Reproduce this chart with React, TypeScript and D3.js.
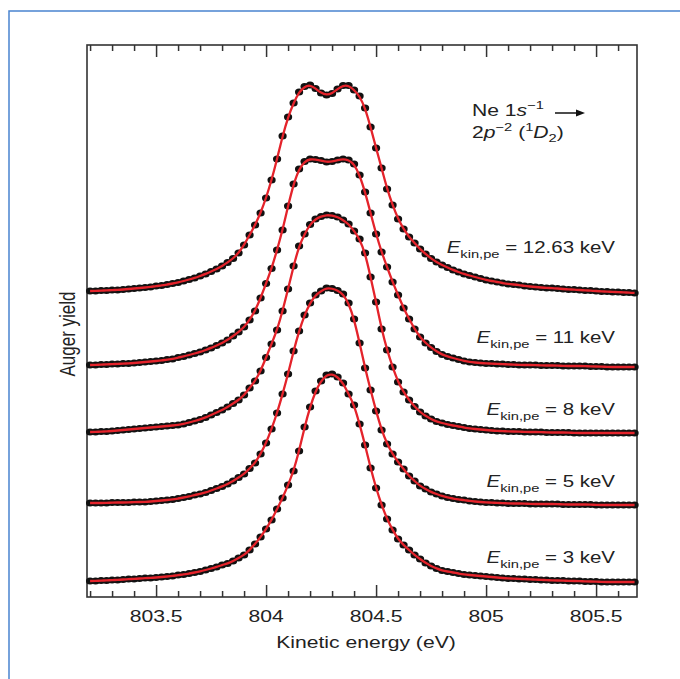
import React, { useEffect, useRef } from 'react';
import * as d3 from 'd3';

// kinetic energy grid (eV): one measured point every 25 meV
const energyStart = 803.2;
const energyStep = 0.025;
const pointCount = 100;

// Auger yield (arb. units, already offset for each photoelectron energy)
const yield1263keV = [
  306, 306, 306.5, 306.5, 307, 307, 307.5, 308, 308.5, 309,
  309.5, 310, 311, 311.5, 312.5, 313.5, 314.5, 316, 317.5, 319,
  321, 323, 325.5, 328, 331, 334.5, 338.5, 344, 352, 362,
  372, 384, 399, 417, 438, 461, 480, 494, 505, 510.5,
  512, 508.5, 504, 502, 503.5, 508, 511.5, 511.5, 507, 501,
  489, 470, 449, 429, 408, 392, 378, 368, 360, 354,
  348, 343, 338.5, 335, 332, 329.5, 327, 325, 323, 321.5,
  320, 318.5, 317, 316, 315, 314, 313, 312.5, 312, 311,
  310.5, 310, 309.5, 309, 309, 308.5, 308, 307.5, 307.5, 307,
  306.5, 306.5, 306, 305.5, 305.5, 305, 305, 304.5, 304.5, 304
];
const yield11keV = [
  232, 232, 232.5, 232.5, 233, 233, 233.5, 233.5, 234, 234.5,
  235, 235.5, 236, 236.5, 237.5, 238, 239.5, 240.5, 242, 243.5,
  245, 247, 249, 251.5, 254, 257, 261, 265, 270, 277,
  286, 299, 313.5, 328.5, 347, 367, 391, 413, 428, 435.5,
  438, 437.5, 436.5, 435, 435.5, 437, 438, 437, 433, 422,
  405, 384, 363, 345, 330, 315, 302, 289, 278, 268,
  260, 254, 249.5, 245.5, 242.5, 240.5, 239, 237.5, 236, 235,
  234.5, 234, 233.5, 233.5, 233, 233, 232.5, 232.5, 232, 232,
  232, 232, 231.5, 231.5, 231.5, 231.5, 231, 231, 231, 231,
  231, 230.5, 230.5, 230.5, 230, 230, 230, 230, 230, 230
];
const yield8keV = [
  165, 165, 165.5, 165.5, 166, 166.5, 167, 167.5, 168, 168.5,
  169, 169.5, 170, 170.5, 171, 171.5, 172, 173, 174.5, 176,
  177.5, 179.5, 182, 184.5, 187, 190, 193.5, 197, 202, 209,
  216, 226, 239.5, 253, 267, 286, 308, 331, 351, 363,
  372.5, 378, 380.5, 382, 381.5, 380, 377, 373, 366, 358,
  344, 320, 295, 268, 247, 230, 215, 205, 197, 190.5,
  185, 181, 178, 175.5, 174, 172.5, 171.5, 170.5, 169.5, 168.5,
  168, 167.5, 167, 166.5, 166, 166, 165.5, 165.5, 165.5, 165,
  165, 165, 165, 164.5, 164.5, 164.5, 164.5, 164.5, 164, 164,
  164, 164, 164, 164, 164, 164, 164, 164, 164, 164
];
const yield5keV = [
  94, 94, 94, 94, 94.5, 94.5, 94.5, 94.5, 95, 95,
  95, 95.5, 96, 96.5, 97, 97.5, 98.5, 99.5, 100.5, 102,
  103, 104.5, 106.5, 108.5, 110.5, 113, 116, 119.5, 123, 128.5,
  134, 143, 154, 168, 184, 203, 223, 246, 266, 282,
  294, 302, 306, 309, 308.5, 306.5, 303, 294, 278, 254,
  229, 207, 186, 167, 153, 143, 135, 128, 121, 116,
  111, 108, 105, 103, 101, 99.5, 98.5, 97.5, 97, 96,
  95.5, 95, 94.5, 94.5, 94, 94, 93.5, 93.5, 93.5, 93.5,
  93, 93, 93, 93, 93, 93, 92.5, 92.5, 92.5, 92.5,
  92.5, 92.5, 92, 92, 92, 92, 92, 92, 92, 92
];
const yield3keV = [
  16, 16, 16.5, 16.5, 17, 17, 17.5, 18, 18, 18.5,
  19, 19, 19.5, 20, 20.5, 21, 22, 22.5, 23.5, 24.5,
  25.5, 27, 28.5, 30, 32, 33.5, 36, 39, 42, 47,
  53, 60, 68, 77, 88, 99, 112, 126, 146, 170,
  190, 206, 216, 222, 223, 220, 214, 203, 192, 173,
  152, 129, 109, 92, 78, 67, 58, 52, 47, 42,
  38, 34, 31, 28.5, 26.5, 25.5, 24.5, 23.5, 22.5, 22,
  21.5, 21, 20.5, 20, 19.5, 19, 18.5, 18.5, 18, 18,
  17.5, 17.5, 17, 17, 16.5, 16.5, 16.5, 16, 16, 16,
  15.5, 15.5, 15.5, 15, 15, 15, 15, 15, 15, 15
];

// photoelectron kinetic energies (keV), top to bottom
const photoEnergies = ['12.63', '11', '8', '5', '3'];
const majorTicks = [803.5, 804, 804.5, 805, 805.5];

const W = 680;
const H = 679;
const plot = { left: 87, right: 637, top: 45, bottom: 597 };
const stretch = 1.28; // the figure text is a bit wide
const labelRight = 615;
const labelBaselines = [253, 343, 415, 487, 563];
const FONT = "'Liberation Sans', Arial, Helvetica, sans-serif";

const App = () => {
  const ref = useRef<SVGSVGElement>(null);

  useEffect(() => {
    const svg = d3.select(ref.current);
    svg.selectAll('*').remove();

    const energies = d3.range(pointCount).map((i) => energyStart + i * energyStep);
    const series = [yield1263keV, yield11keV, yield8keV, yield5keV, yield3keV];

    const x = d3.scaleLinear().domain([803.186, 805.686]).range([plot.left, plot.right]);
    const y = d3.scaleLinear().domain([0, 552]).range([plot.bottom, plot.top]);

    svg.append('rect').attr('width', W).attr('height', H).attr('fill', '#fff');

    // blue page border
    svg.append('path')
      .attr('d', `M9,${H} V11 H${W}`)
      .attr('fill', 'none')
      .attr('stroke', '#4a84cf')
      .attr('stroke-width', 1.5);

    const minorTicks = d3.range(803.2, 805.65, 0.1).filter(
      (v) => !majorTicks.some((m) => Math.abs(m - v) < 1e-6)
    );

    // ticks on bottom (pointing up) and top (pointing down)
    const tickColor = '#333';
    const drawTicks = (vals: number[], len: number) => {
      svg.append('g')
        .attr('transform', `translate(0,${plot.bottom})`)
        .call(d3.axisBottom(x).tickValues(vals).tickSize(-len).tickFormat(() => ''))
        .call((g) => g.select('.domain').remove())
        .selectAll('line').attr('stroke', tickColor).attr('stroke-width', 1.5);
      svg.append('g')
        .attr('transform', `translate(0,${plot.top})`)
        .call(d3.axisTop(x).tickValues(vals).tickSize(-len).tickFormat(() => ''))
        .call((g) => g.select('.domain').remove())
        .selectAll('line').attr('stroke', tickColor).attr('stroke-width', 1.5);
    };
    drawTicks(minorTicks, 6);
    drawTicks(majorTicks, 12);

    svg.append('rect')
      .attr('x', plot.left)
      .attr('y', plot.top)
      .attr('width', plot.right - plot.left)
      .attr('height', plot.bottom - plot.top)
      .attr('fill', 'none')
      .attr('stroke', '#333')
      .attr('stroke-width', 1.6);

    const textAt = (px: number, py: number, rotate = 0) =>
      svg.append('g')
        .attr('transform', `translate(${px},${py}) scale(${stretch},1)${rotate ? ` rotate(${rotate})` : ''}`)
        .append('text')
        .attr('font-family', FONT)
        .attr('fill', '#222');

    majorTicks.forEach((t) => {
      textAt(x(t), 622).attr('font-size', 16.5).attr('text-anchor', 'middle').text(d3.format('')(t));
    });

    textAt((plot.left + plot.right) / 2 + 4, 648)
      .attr('font-size', 16.5)
      .attr('text-anchor', 'middle')
      .text('Kinetic energy (eV)');

    textAt(75, 334, -90)
      .attr('font-size', 17)
      .attr('text-anchor', 'middle')
      .text('Auger yield');

    // measured points and fits
    series.forEach((vals) => {
      const pts = vals.map((v, i) => [energies[i], v] as [number, number]);
      svg.append('g')
        .selectAll('ellipse')
        .data(pts)
        .enter()
        .append('ellipse')
        .attr('cx', (d) => x(d[0]))
        .attr('cy', (d) => y(d[1]))
        .attr('rx', 4.1)
        .attr('ry', 3.5)
        .attr('fill', '#111');
    });
    series.forEach((vals) => {
      const pts = vals.map((v, i) => [energies[i], v] as [number, number]);
      svg.append('path')
        .datum(pts)
        .attr('fill', 'none')
        .attr('stroke', '#e4232b')
        .attr('stroke-width', 2.3)
        .attr('d', d3.line<[number, number]>()
          .x((d) => x(d[0]))
          .y((d) => y(d[1]))
          .curve(d3.curveBasis));
    });

    // E_kin,pe labels
    photoEnergies.forEach((e, i) => {
      const t = textAt(labelRight, labelBaselines[i]).attr('font-size', 16).attr('text-anchor', 'end');
      t.append('tspan').attr('font-style', 'italic').text('E');
      t.append('tspan').attr('font-size', 11.5).attr('dy', 4.5).text('kin,pe');
      t.append('tspan').attr('dy', -4.5).text(` = ${e} keV`);
    });

    // transition annotation
    const l1 = textAt(472, 116).attr('font-size', 16.5);
    l1.append('tspan').text('Ne 1');
    l1.append('tspan').attr('font-style', 'italic').text('s');
    l1.append('tspan').attr('font-size', 11.5).attr('dy', -7).text('\u22121');

    const l2 = textAt(472, 138).attr('font-size', 16.5);
    l2.append('tspan').text('2');
    l2.append('tspan').attr('font-style', 'italic').text('p');
    l2.append('tspan').attr('font-size', 11.5).attr('dy', -7).text('\u22122');
    l2.append('tspan').attr('dy', 7).text(' (');
    l2.append('tspan').attr('font-size', 11.5).attr('dy', -7).text('1');
    l2.append('tspan').attr('font-style', 'italic').attr('dy', 7).text('D');
    l2.append('tspan').attr('font-size', 11.5).attr('dy', 4).text('2');
    l2.append('tspan').attr('dy', -4).text(')');

    svg.append('line')
      .attr('x1', 555).attr('x2', 578)
      .attr('y1', 113).attr('y2', 113)
      .attr('stroke', '#111').attr('stroke-width', 1.5);
    svg.append('path')
      .attr('d', 'M576,109.5 L585,113 L576,116.5 Z')
      .attr('fill', '#111');
  }, []);

  return (
    <svg
      ref={ref}
      width={W}
      height={H}
      style={{ position: 'absolute', left: 0, top: 0 }}
    />
  );
};

export default App;
